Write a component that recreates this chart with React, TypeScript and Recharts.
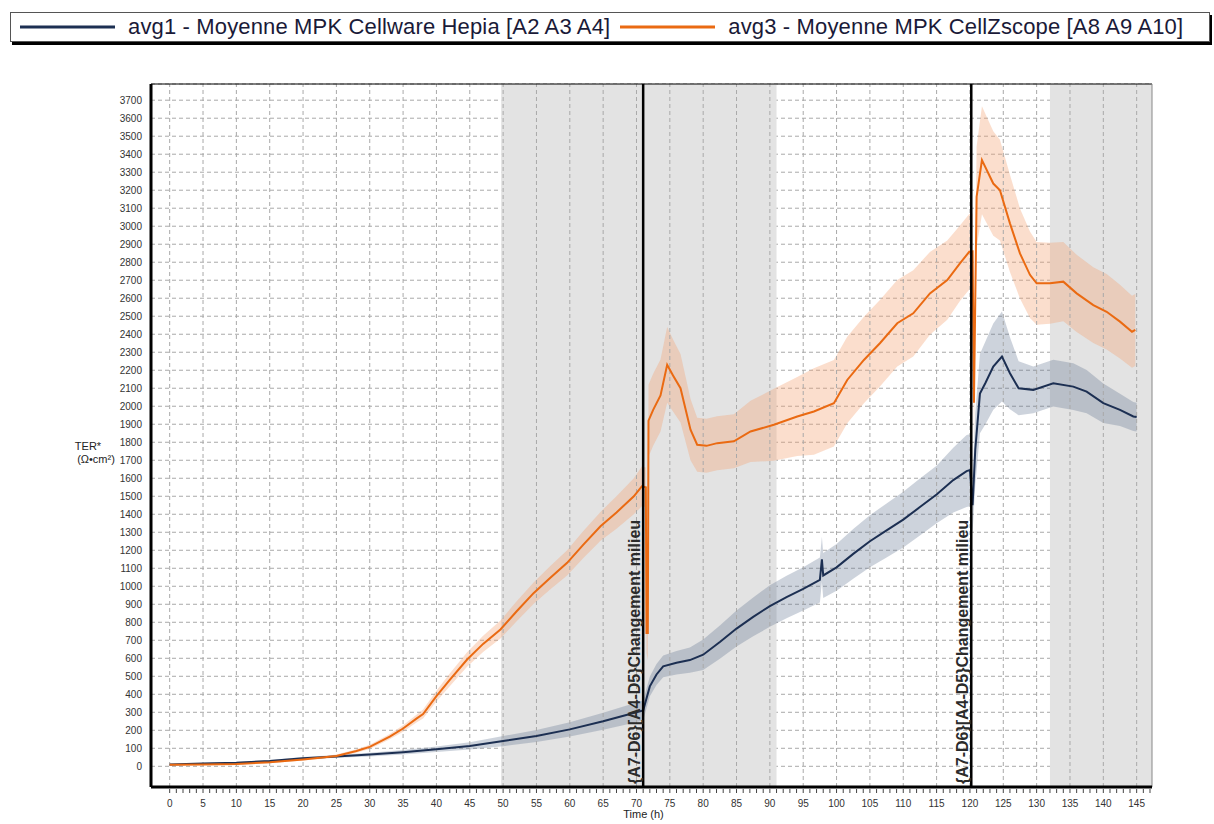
import React from "react";
import {
  ComposedChart,
  Line,
  Area,
  XAxis,
  YAxis,
  CartesianGrid,
  ReferenceLine,
  ReferenceArea,
  Legend,
} from "recharts";

// ---- Data ----
const seriesNames = [
  "avg1 - Moyenne MPK Cellware Hepia [A2 A3 A4]",
  "avg3 - Moyenne MPK CellZscope [A8 A9 A10]",
];
const seriesColors = ["#1c2f52", "#ea6a12"];

const avg1Time = [
  0, 5, 10, 15, 20, 25, 30, 35, 40, 45, 50, 55, 60, 65, 70, 71, 72, 73, 74, 76,
  78, 80, 82.5, 85, 87.5, 90, 92.5, 95, 97.5, 97.8, 98, 100, 102.5, 105, 107.5,
  110, 112.5, 115, 117.5, 119.5, 120, 120.4, 120.8, 121.5, 122.3, 123.5, 124.8,
  126, 127.3, 129.5, 132.5, 135.5, 137.5, 140, 142.5, 144.5, 145,
];
const avg1Value = [
  10, 15, 20, 30, 45, 55, 65, 78, 95, 113, 140, 168, 205, 250, 300, 310, 444,
  510, 555, 575, 590, 620, 690, 765, 830, 890, 940, 985, 1035, 1150, 1060, 1105,
  1180, 1250, 1310, 1370, 1440, 1510, 1590, 1640, 1645, 1450, 1760, 2070, 2128,
  2220, 2276, 2183, 2100, 2091, 2128, 2109, 2081, 2017, 1980, 1943, 1940,
];
const avg1Spread = [
  3, 3, 4, 5, 6, 8, 10, 12, 15, 20, 28, 33, 40, 47, 55, 55, 55, 58, 60, 65, 70,
  85, 92, 100, 108, 115, 118, 120, 125, 125, 125, 130, 138, 145, 150, 155, 158,
  160, 180, 200, 200, 150, 200, 220, 230, 240, 250, 200, 150, 130, 130, 130, 120,
  110, 90, 80, 80,
];

const avg3Time = [
  0, 5, 10, 15, 20, 25, 28, 30, 33, 35, 37, 38, 40, 42, 44.6, 47, 49.6, 52, 54.6,
  57, 59.6, 62, 64.6, 67, 69.6, 70.8, 71.4, 71.5, 71.7, 71.8, 72.5, 73.6, 74.6,
  75.5, 76.6, 78.1, 79.1, 80.5, 82.1, 84.6, 87.1, 90.6, 94.1, 96.6, 99.6, 101.6,
  104.1, 106.5, 109.1, 111.5, 114, 116.6, 118.5, 119.9, 120.4, 120.6, 121, 121.8,
  123.5, 124.5, 126, 127.5, 129, 130, 132, 134, 136, 138.5, 140.5, 142.5, 144.3,
  144.8,
];
const avg3Value = [
  8, 10, 13, 22, 38, 57, 85, 108, 165, 210, 265, 290, 390, 480, 593, 680, 760,
  860, 963, 1045, 1130, 1230, 1333, 1410, 1500, 1555, 1550, 740, 740, 1920, 1980,
  2060, 2230, 2170, 2100, 1870, 1786, 1780, 1795, 1805, 1860, 1897, 1943, 1971,
  2017, 2146, 2257, 2350, 2461, 2516, 2627, 2701, 2794, 2858, 2860, 2020, 3163,
  3367, 3237, 3200, 3016, 2849, 2730, 2683, 2683, 2692, 2627, 2562, 2525, 2470,
  2414, 2424,
];
const avg3Spread = [
  3, 3, 4, 5, 6, 8, 10, 12, 15, 18, 22, 25, 30, 35, 40, 45, 50, 55, 60, 65, 70,
  75, 80, 90, 100, 110, 110, 110, 150, 200, 200, 200, 210, 200, 190, 170, 150,
  150, 150, 150, 170, 200, 220, 240, 240, 240, 240, 240, 240, 240, 230, 220, 210,
  210, 210, 210, 280, 300, 290, 280, 270, 250, 240, 230, 225, 220, 215, 210, 210,
  205, 200, 200,
];

const yTicks = Array.from({ length: 38 }, (_, i) => i * 100);
const xTicks = Array.from({ length: 148 }, (_, i) => i);
const xGridValues = Array.from({ length: 30 }, (_, i) => i * 5);
const grayPeriods = [
  [49.7, 91.0],
  [132.0, 147.3],
];
const eventTimes = [71.0, 120.2];
const eventLabel = "{A7-D6}[A4-D5}Changement milieu";
const xDomain = [-2.8, 147.3];
const yDomain = [-115, 3790];

const avg1Data = avg1Time.map((t, i) => ({
  t,
  v: avg1Value[i],
  band: [avg1Value[i] - avg1Spread[i], avg1Value[i] + avg1Spread[i]],
}));
const avg3Data = avg3Time.map((t, i) => ({
  t,
  v: avg3Value[i],
  band: [avg3Value[i] - avg3Spread[i], avg3Value[i] + avg3Spread[i]],
}));

const FONT = "'Liberation Sans', Arial, sans-serif";

const XTick = (props: any) => {
  const { x, y, payload } = props;
  const v = payload.value;
  return (
    <g>
      <line x1={x} x2={x} y1={y + 2} y2={y + 6} stroke="#444" strokeWidth={1} />
      {v % 5 === 0 ? (
        <text
          x={x}
          y={y + 20}
          textAnchor="middle"
          fontSize={10}
          fill="#333"
          fontFamily={FONT}
        >
          {v}
        </text>
      ) : null}
    </g>
  );
};

const EventLabel = (props: any) => {
  const vb = props.viewBox || {};
  const x = (vb.x || 0) - 3;
  const bottom = (vb.y || 0) + (vb.height || 0) - 3;
  return (
    <text
      x={x}
      y={bottom}
      transform={`rotate(-90 ${x} ${bottom})`}
      textAnchor="start"
      fontSize={16}
      fontWeight="bold"
      fill="#2b2b2b"
      fontFamily={FONT}
    >
      {eventLabel}
    </text>
  );
};

const YLabel = (props: any) => {
  const vb = props.viewBox || {};
  const cx = 92;
  const cy = (vb.y || 0) + (vb.height || 0) / 2;
  return (
    <g fontFamily={FONT} fill="#222" fontSize={11}>
      <text x={cx - 4} y={cy + 14} textAnchor="middle">
        TER*
      </text>
      <text x={cx + 4} y={cy + 27} textAnchor="middle">
        (Ω•cm²)
      </text>
    </g>
  );
};

const LegendBox = () => (
  <div
    style={{
      display: "flex",
      alignItems: "center",
      height: 28,
      fontFamily: FONT,
      fontSize: 22,
      letterSpacing: 0.15,
      color: "#1a1a38",
      whiteSpace: "nowrap",
      paddingLeft: 9,
    }}
  >
    {seriesNames.map((name, i) => (
      <div
        key={name}
        style={{ display: "flex", alignItems: "center", marginRight: 10 }}
      >
        <svg width={95} height={6} style={{ marginRight: 13 }}>
          <line x1={0} x2={95} y1={3} y2={3} stroke={seriesColors[i]} strokeWidth={3} />
        </svg>
        <span>{name}</span>
      </div>
    ))}
  </div>
);

export default function App() {
  return (
    <div
      style={{
        position: "absolute",
        left: 0,
        top: 0,
        width: 1214,
        height: 824,
        background: "#fff",
      }}
    >
      <ComposedChart
        width={1214}
        height={824}
        margin={{ top: 84, right: 62, left: 0, bottom: 7 }}
        style={{ fontFamily: FONT }}
      >
        <Legend
          layout="horizontal"
          verticalAlign="middle"
          align="center"
          content={<LegendBox />}
          wrapperStyle={{
            position: "absolute",
            top: 12,
            left: 10,
            width: 1200,
            height: 30,
            border: "1px solid #555",
            boxShadow: "2px 3px 0 #000",
            background: "#fff",
            boxSizing: "border-box",
          }}
        />
        {grayPeriods.map(([a, b], i) => (
          <ReferenceArea
            key={"g" + i}
            x1={a}
            x2={b}
            fill="#e3e3e3"
            fillOpacity={1}
            stroke="none"
            ifOverflow="extendDomain"
          />
        ))}
        <CartesianGrid
          vertical={false}
          stroke="#a9a9a9"
          strokeDasharray="4 3"
        />
        {xGridValues.map((v) => (
          <ReferenceLine
            key={"vg" + v}
            x={v}
            stroke="#a9a9a9"
            strokeDasharray="4 3"
          />
        ))}
        <XAxis
          type="number"
          dataKey="t"
          domain={xDomain}
          allowDataOverflow
          ticks={xTicks}
          interval={0}
          tick={<XTick />}
          tickLine={false}
          tickSize={0}
          tickMargin={0}
          height={30}
          axisLine={{ stroke: "#000", strokeWidth: 3 }}
          label={{
            value: "Time (h)",
            position: "insideBottom",
            offset: -1,
            fontSize: 11,
            fill: "#222",
            dx: -8,
          }}
        />
        <YAxis
          type="number"
          domain={yDomain}
          allowDataOverflow
          ticks={yTicks}
          interval={0}
          width={151}
          tickLine={false}
          tickSize={0}
          tickMargin={9}
          tick={{ fontSize: 10, fill: "#333", fontFamily: FONT }}
          axisLine={{ stroke: "#000", strokeWidth: 3 }}
          label={<YLabel />}
        />
        <Area
          data={avg3Data}
          dataKey="band"
          type="linear"
          stroke="none"
          fill="#f4a070"
          fillOpacity={0.35}
          isAnimationActive={false}
          legendType="none"
        />
        <Area
          data={avg1Data}
          dataKey="band"
          type="linear"
          stroke="none"
          fill="#5a6e8c"
          fillOpacity={0.3}
          isAnimationActive={false}
          legendType="none"
        />
        <Line
          data={avg1Data}
          dataKey="v"
          name={seriesNames[0]}
          type="linear"
          stroke={seriesColors[0]}
          strokeWidth={2}
          dot={false}
          isAnimationActive={false}
        />
        <Line
          data={avg3Data}
          dataKey="v"
          name={seriesNames[1]}
          type="linear"
          stroke={seriesColors[1]}
          strokeWidth={2}
          dot={false}
          isAnimationActive={false}
        />
        {eventTimes.map((t) => (
          <ReferenceLine
            key={"e" + t}
            x={t}
            stroke="#000"
            strokeWidth={2.5}
            label={<EventLabel />}
          />
        ))}
        <ReferenceLine y={yDomain[1]} stroke="#000" strokeWidth={1} />
        <ReferenceLine x={xDomain[1]} stroke="#888" strokeWidth={1} />
      </ComposedChart>
    </div>
  );
}
